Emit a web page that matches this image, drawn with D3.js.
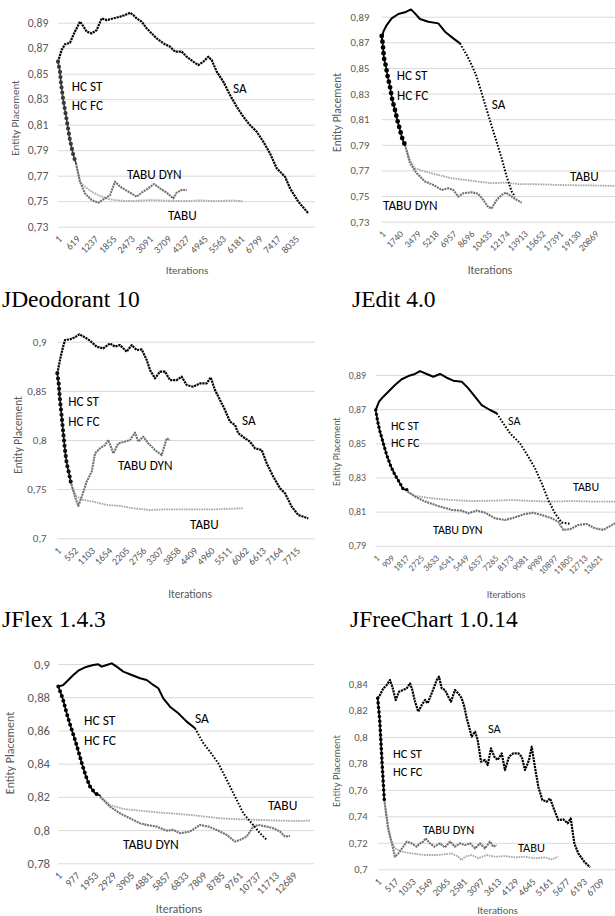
<!DOCTYPE html>
<html><head><meta charset="utf-8">
<script src="https://cdn.jsdelivr.net/npm/d3@7"></script>
<style>body{margin:0;background:#fff}svg{display:block}</style>
</head><body>
<svg id="c" width="615" height="916"></svg>
<script>
// ---------- DATA (iteration, entity placement) ----------
const p1_xTicks=[1,619,1237,1855,2473,3091,3709,4327,4945,5563,6181,6799,7417,8035];
const p1_yTicks=[0.73,0.75,0.77,0.79,0.81,0.83,0.85,0.87,0.89];
const p1_SA=[[1,.8594],[125,.8686],[237,.873],[406,.8743],[575,.883],[745,.8908],[835,.888],[971,.883],[1140,.8816],[1310,.8842],[1479,.8934],[1648,.892],[1872,.8934],[2099,.8947],[2268,.896],[2437,.8978],[2549,.896],[2663,.8934],[2833,.8908],[3002,.8856],[3172,.8816],[3341,.8777],[3566,.8738],[3792,.8712],[3961,.8673],[4187,.8673],[4357,.8633],[4581,.8594],[4750,.8568],[4919,.8594],[5089,.8633],[5203,.8607],[5373,.8516],[5597,.8437],[5823,.8333],[6050,.8241],[6273,.8163],[6500,.8097],[6727,.8045],[6950,.7967],[7177,.7875],[7404,.7758],[7685,.7692],[7855,.7601],[8136,.7496],[8474,.7405]];
const p1_HCST=[[1,.8594],[68,.8516],[102,.8424],[180,.8293],[294,.8137],[406,.798],[519,.7862],[609,.7797]];
const p1_HCFC=[[1,.8594],[68,.8516],[102,.8424],[180,.8293],[294,.8137],[406,.798],[519,.7862],[609,.7797]];
const p1_TABU=[[609,.7797],[745,.7653],[914,.7614],[1140,.7575],[1423,.7541],[1761,.7514],[2099,.7504],[2549,.7501],[3115,.7509],[3679,.7504],[4244,.7501],[4807,.7506],[5373,.7501],[5936,.7506],[6273,.7499]];
const p1_DYN=[[609,.7797],[745,.7653],[914,.7561],[1140,.7509],[1366,.7488],[1592,.7522],[1761,.7548],[1930,.7653],[2099,.7614],[2381,.7575],[2663,.7535],[2833,.7567],[3058,.7601],[3251,.7635],[3454,.7601],[3679,.7567],[3904,.7522],[4019,.7567],[4187,.7588],[4357,.7588]];
const p1_labels=[["HC ST",465,.8388],["HC FC",465,.8239],["SA",5925,.8372],["TABU DYN",2337,.7698],["TABU",3725,.7376]];

const p2_xTicks=[1,1740,3479,5218,6957,8696,10435,12174,13913,15652,17391,19130,20869];
const p2_yTicks=[0.73,0.75,0.77,0.79,0.81,0.83,0.85,0.87,0.89];
const p2_SA=[[1,.872],[160,.8783],[489,.8835],[978,.8887],[1627,.8921],[2279,.8934],[2866,.8957],[3257,.8926],[3746,.8882],[4558,.8861],[5537,.8848],[6192,.8783],[7004,.8731],[7659,.8692],[8315,.8601],[8804,.8523],[9293,.8432],[9782,.8302],[10427,.8133],[11083,.7964],[11738,.7795],[12227,.7652],[12717,.7535],[13040,.7496]];
const p2_HCST=[[1,.875],[98,.8692],[225,.8575],[421,.851],[587,.8432],[812,.8354],[1037,.825],[1301,.8172],[1526,.8094],[1790,.8016],[2054,.7938],[2279,.7899]];
const p2_HCFC=[[1,.875],[98,.8692],[225,.8575],[421,.851],[587,.8432],[812,.8354],[1037,.825],[1301,.8172],[1526,.8094],[1790,.8016],[2054,.7938],[2279,.7899]];
const p2_TABU=[[2279,.7899],[2768,.7782],[3257,.7717],[4236,.7691],[5537,.7665],[6847,.7639],[8148,.7626],[9450,.7613],[10760,.76],[12061,.7605],[13362,.7594],[15319,.7592],[17275,.7587],[19231,.7584],[21187,.7582],[22821,.7579]];
const p2_DYN=[[2279,.7899],[2768,.7756],[3424,.7678],[4236,.7613],[5047,.7587],[5869,.7548],[6515,.7561],[7004,.7548],[7493,.7496],[7982,.7522],[8804,.753],[9450,.7517],[9938,.747],[10427,.7413],[10760,.7405],[11249,.747],[11738,.7509],[12159,.7527],[12717,.7496],[13205,.747],[13694,.7449]];
const p2_labels=[["HC ST",1468,.8432],["HC FC",1498,.8276],["SA",10761,.8203],["TABU",18420,.7644],["TABU DYN",128,.7415]];

const p3_xTicks=[1,552,1103,1654,2205,2756,3307,3858,4409,4960,5511,6062,6613,7164,7715];
const p3_yTicks=[0.7,0.75,0.8,0.85,0.9];
const p3_SA=[[1,.8678],[87,.8814],[174,.8932],[249,.9017],[410,.9024],[571,.9044],[711,.9075],[895,.9044],[1056,.901],[1273,.8949],[1486,.8932],[1702,.8983],[1863,.8949],[2025,.8966],[2241,.8898],[2402,.8966],[2564,.8915],[2725,.8922],[2887,.8814],[2993,.8712],[3155,.8627],[3316,.8695],[3477,.8695],[3639,.861],[3855,.861],[4016,.8644],[4178,.8559],[4391,.8542],[4607,.8576],[4823,.8576],[4953,.8637],[5091,.8508],[5253,.8407],[5414,.8305],[5576,.8186],[5737,.8153],[5843,.8068],[6060,.8017],[6221,.7983],[6383,.7915],[6599,.7898],[6760,.7763],[6973,.7627],[7190,.7508],[7351,.7458],[7567,.7322],[7780,.7237],[8103,.7203]];
const p3_HCST=[[1,.8678],[46,.8576],[87,.8407],[143,.8237],[195,.8068],[249,.7898],[304,.7763],[379,.7661],[433,.7576]];
const p3_HCFC=[[1,.8678],[46,.8576],[87,.8407],[143,.8237],[195,.8068],[249,.7898],[304,.7763],[379,.7661],[433,.7576]];
const p3_TABU=[[433,.7576],[466,.7525],[627,.7424],[840,.739],[1163,.7373],[1596,.7339],[2025,.7329],[2454,.7305],[2993,.7288],[3533,.7295],[4068,.7295],[4607,.7295],[5145,.7295],[5682,.7302],[6005,.7305]];
const p3_DYN=[[433,.7576],[571,.7424],[679,.7329],[789,.7424],[950,.7576],[1111,.7678],[1218,.7864],[1379,.7915],[1541,.7949],[1647,.8],[1809,.7864],[1970,.7966],[2186,.7983],[2348,.8],[2509,.8075],[2615,.7983],[2777,.8034],[2939,.7966],[3155,.7898],[3371,.7847],[3533,.8017],[3639,.8]];
const p3_labels=[["HC ST",356,.8376],["HC FC",356,.8178],["SA",5963,.8186],["TABU DYN",1960,.7725],["TABU",4285,.7125]];

const p4_xTicks=[1,909,1817,2725,3633,4541,5449,6357,7265,8173,9081,9989,10897,11805,12713,13621];
const p4_yTicks=[0.79,0.81,0.83,0.85,0.87,0.89];
const p4_SA=[[1,.8695],[203,.8744],[465,.8773],[771,.8802],[1180,.8841],[1590,.8875],[1993,.8894],[2402,.8906],[2708,.8923],[3117,.8906],[3520,.889],[3930,.8906],[4339,.8884],[4743,.8867],[5256,.8861],[5659,.8822],[6068,.8773],[6478,.8724],[6985,.8695],[7394,.8676],[7798,.8617],[8207,.8559],[8818,.85],[9325,.8422],[9735,.8354],[10144,.8266],[10547,.8168],[10956,.809],[11366,.8036],[11873,.8028]];
const p4_HCST=[[1,.8695],[123,.8627],[264,.8568],[465,.85],[673,.8432],[936,.8363],[1180,.8315],[1486,.8266],[1688,.8231],[1956,.8227]];
const p4_HCFC=[[1,.8695],[123,.8627],[264,.8568],[465,.85],[673,.8432],[936,.8363],[1180,.8315],[1486,.8266],[1688,.8231],[1956,.8227]];
const p4_TABU=[[1956,.8217],[2402,.8192],[3423,.8178],[4645,.8168],[5867,.8162],[7089,.8164],[8311,.8168],[9533,.8162],[10755,.8159],[11977,.8162],[13199,.8159],[14623,.8159]];
const p4_DYN=[[1956,.8217],[2402,.8188],[3013,.8159],[3826,.8133],[4645,.811],[5256,.8106],[5659,.809],[6172,.8106],[6679,.8094],[7290,.8061],[7901,.8051],[8512,.8067],[9124,.8086],[9631,.8094],[10144,.808],[10755,.8061],[11158,.8041],[11464,.7993],[11873,.7997],[12381,.8022],[12894,.8028],[13401,.8002],[13908,.7993],[14623,.8032]];
const p4_labels=[["HC ST",936,.8597],["HC FC",936,.8496],["SA",8085,.8625],["TABU",12058,.8238],["TABU DYN",3502,.7986]];

const p5_xTicks=[1,977,1953,2929,3905,4881,5857,6833,7809,8785,9761,10737,11713,12689];
const p5_yTicks=[0.78,0.8,0.82,0.84,0.86,0.88,0.9];
const p5_SA=[[1,.8864],[271,.8874],[541,.8904],[811,.8934],[1081,.896],[1443,.898],[1891,.8994],[2160,.8998],[2344,.8984],[2614,.8994],[2884,.9004],[3154,.8984],[3510,.8954],[3963,.8934],[4412,.8914],[4773,.8904],[5130,.8874],[5400,.8854],[5670,.8793],[6031,.8743],[6479,.8703],[6933,.8653],[7381,.8613],[7829,.8523],[8191,.8472],[8639,.8402],[9093,.8302],[9541,.8202],[9989,.8101],[10442,.8041],[10890,.7981],[11252,.7941]];
const p5_HCST=[[1,.8864],[238,.8793],[454,.8703],[670,.8623],[903,.8543],[1118,.8462],[1297,.8392],[1497,.8322],[1712,.8262],[1982,.8222],[2252,.8208]];
const p5_HCFC=[[1,.8864],[238,.8793],[454,.8703],[670,.8623],[903,.8543],[1118,.8462],[1297,.8392],[1497,.8322],[1712,.8262],[1982,.8222],[2252,.8208]];
const p5_TABU=[[2252,.8202],[2792,.8151],[3510,.8127],[4412,.8117],[5491,.8105],[6571,.8097],[7651,.8085],[8731,.8071],[9810,.8065],[10890,.8061],[11970,.8057],[13050,.8055],[13590,.8057]];
const p5_DYN=[[2252,.8202],[2792,.8141],[3332,.8101],[3872,.8071],[4412,.8041],[4773,.8031],[5313,.8021],[5853,.7997],[6209,.8001],[6571,.7981],[7111,.7991],[7651,.8031],[8099,.8021],[8553,.8001],[9093,.7971],[9541,.7931],[9810,.7941],[10172,.7961],[10528,.8021],[10800,.8031],[11252,.8021],[11608,.8011],[11970,.7991],[12240,.7961],[12510,.7965]];
const p5_labels=[["HC ST",1388,.8651],["HC FC",1388,.853],["SA",7381,.8663],["TABU",11322,.8139],["TABU DYN",3494,.7904]];

const p6_xTicks=[1,517,1033,1549,2065,2581,3097,3613,4129,4645,5161,5677,6193,6709];
const p6_yTicks=[0.7,0.72,0.74,0.76,0.78,0.8,0.82,0.84];
const p6_SA=[[1,.8292],[70,.8317],[170,.8367],[272,.8392],[372,.843],[441,.838],[543,.8279],[643,.8342],[772,.8355],[874,.8367],[974,.8405],[1043,.8355],[1124,.8267],[1224,.8191],[1326,.8241],[1426,.8279],[1507,.8254],[1606,.8317],[1706,.838],[1778,.843],[1847,.8455],[1929,.8367],[2028,.8355],[2127,.8304],[2209,.8267],[2329,.8355],[2429,.8329],[2531,.8292],[2609,.8229],[2682,.8141],[2751,.8078],[2832,.8002],[2932,.804],[3013,.7977],[3112,.7813],[3233,.7826],[3314,.7788],[3414,.7914],[3513,.7851],[3615,.7826],[3736,.7876],[3835,.775],[3956,.7851],[4085,.7876],[4236,.7876],[4338,.7851],[4438,.775],[4558,.7826],[4640,.7926],[4718,.7801],[4838,.7624],[4959,.7524],[5091,.7511],[5191,.7536],[5320,.7448],[5441,.7372],[5591,.7377],[5724,.7347],[5814,.7385],[5923,.7196],[6043,.712],[6224,.7057],[6396,.7015]];
const p6_HCST=[[1,.8292],[61,.8128],[100,.7952],[140,.7775],[170,.765],[200,.7524]];
const p6_HCFC=[[1,.8292],[61,.8128],[100,.7952],[140,.7775],[170,.765],[200,.7524]];
const p6_TABU=[[200,.7524],[302,.7347],[401,.7221],[522,.7158],[724,.7133],[1025,.712],[1426,.7108],[1826,.7108],[2227,.712],[2429,.7095],[2531,.707],[2631,.7095],[2832,.7108],[3031,.7083],[3284,.7108],[3534,.7095],[3835,.71],[4136,.709],[4438,.7095],[4739,.7083],[5040,.709],[5242,.7075],[5441,.7095]];
const p6_DYN=[[200,.7524],[320,.7297],[441,.7183],[522,.7095],[622,.712],[772,.7171],[874,.7209],[1025,.7196],[1176,.7171],[1275,.7196],[1374,.7209],[1447,.7234],[1576,.7196],[1706,.7171],[1877,.7196],[2028,.7166],[2178,.7209],[2329,.7171],[2480,.7196],[2631,.7183],[2782,.7196],[2932,.7158],[3082,.7196],[3233,.7158],[3383,.7209],[3483,.7171],[3585,.7183]];
const p6_labels=[["HC ST",462,.7864],["HC FC",462,.7728],["SA",3323,.8052],["TABU DYN",1365,.7289],["TABU",4227,.7153]];

const captions=["JDeodorant 10","JEdit 4.0","JFlex 1.4.3","JFreeChart 1.0.14"];
const yTitle="Entity Placement", xTitle="Iterations";

// ---------- LAYOUT / STYLE ----------
const F="Carlito, Calibri, Lato, sans-serif";
const layout=[
 {d:[p1_xTicks,p1_yTicks,p1_SA,p1_HCST,p1_HCFC,p1_TABU,p1_DYN,p1_labels],left:58,right:315,N:8700,yDom:[0.73,0.89],yRange:[226.7,22.7],yPad:9.7,yFont:11.7,xFont:10,ann:13.2,tFont:11,yT:[16.7,118],xT:[187,274],hcW:4.2,hcC:"#3a3a3a",split:0},
 {d:[p2_xTicks,p2_yTicks,p2_SA,p2_HCST,p2_HCFC,p2_TABU,p2_DYN,p2_labels],left:381.7,right:615,N:22823,yDom:[0.73,0.89],yRange:[221.7,16.7],yPad:12.4,yFont:10.7,xFont:9.5,ann:13.2,tFont:11.5,yT:[338.3,112.5],xT:[490,274],hcW:4.8,hcC:"#000",split:7659},
 {d:[p3_xTicks,p3_yTicks,p3_SA,p3_HCST,p3_HCFC,p3_TABU,p3_DYN,p3_labels],left:57.3,right:315,N:8319,yDom:[0.7,0.9],yRange:[538.3,341.7],yPad:10.6,yFont:11,xFont:10,ann:13.2,tFont:11.3,yT:[19,435],xT:[190,598],hcW:4.2,hcC:"#111",split:0},
 {d:[p4_xTicks,p4_yTicks,p4_SA,p4_HCST,p4_HCFC,p4_TABU,p4_DYN,p4_labels],left:375.7,right:615,N:14623,yDom:[0.79,0.89],yRange:[545.8,375],yPad:9.7,yFont:9.8,xFont:9,ann:12,tFont:10,yT:[337.3,451.7],xT:[506,598],hcW:3.4,hcC:"#000",split:7394},
 {d:[p5_xTicks,p5_yTicks,p5_SA,p5_HCST,p5_HCFC,p5_TABU,p5_DYN,p5_labels],left:58.3,right:314,N:13805,yDom:[0.78,0.9],yRange:[863.3,664],yPad:8.3,yFont:12.7,xFont:10.5,ann:13.5,tFont:12,yT:[11,753],xT:[179,913],hcW:4,hcC:"#000",split:7381},
 {d:[p6_xTicks,p6_yTicks,p6_SA,p6_HCST,p6_HCFC,p6_TABU,p6_DYN,p6_labels],left:377.7,right:615,N:7148,yDom:[0.7,0.84],yRange:[869.3,684],yPad:10,yFont:10.7,xFont:10,ann:12.4,tFont:10.5,yT:[337.7,771],xT:[497.5,914],hcW:3.6,hcC:"#000",split:0}
];
const capPos=[[2,307],[352,307],[2,627],[350,627]];

// ---------- DRAW ----------
const svg=d3.select("#c");
svg.append("rect").attr("width",615).attr("height",916).attr("fill","#fff");
const fmt=v=>String(+v.toFixed(2)).replace(".",",");

layout.forEach(L=>{
  const [xTicks,yTicks,SA,HCST,HCFC,TABU,DYN,labels]=L.d;
  const g=svg.append("g");
  const x=d3.scaleLinear().domain([1,L.N]).range([L.left,L.right]);
  const y=d3.scaleLinear().domain(L.yDom).range(L.yRange);

  const gy=g.append("g").attr("transform",`translate(${L.left},0)`)
    .call(d3.axisLeft(y).tickValues(yTicks).tickSize(-(L.right-L.left)).tickPadding(L.yPad).tickFormat(fmt));
  gy.select(".domain").remove();
  gy.selectAll("line").attr("stroke","#d9d9d9").attr("stroke-width",1);
  gy.selectAll("text").attr("fill","#595959").style("font-family",F).style("font-size",L.yFont+"px");

  const gx=g.append("g").attr("transform",`translate(0,${L.yRange[0]})`)
    .call(d3.axisBottom(x).tickValues(xTicks).tickSize(0).tickFormat(d3.format("d")));
  gx.select(".domain").remove();
  gx.selectAll("text").attr("y",0).attr("dy",0).attr("x",0)
    .attr("text-anchor","end").attr("transform","translate(4,13) rotate(-45)")
    .attr("fill","#595959").style("font-family",F).style("font-size",L.xFont+"px");

  g.append("text").attr("transform",`translate(${L.yT[0]},${L.yT[1]}) rotate(-90)`)
    .attr("text-anchor","middle").attr("dominant-baseline","middle")
    .attr("fill","#595959").style("font-family",F).style("font-size",L.tFont+"px").text(yTitle);
  g.append("text").attr("x",L.xT[0]).attr("y",L.xT[1]).attr("text-anchor","middle")
    .attr("fill","#595959").style("font-family",F).style("font-size",L.tFont+"px").text(xTitle);

  const line=d3.line().x(d=>x(d[0])).y(d=>y(d[1]));
  const path=(data,stroke,w,dash,cap)=>g.append("path").attr("d",line(data)).attr("fill","none")
      .attr("stroke",stroke).attr("stroke-width",w).attr("stroke-dasharray",dash)
      .attr("stroke-linecap",cap||"butt").attr("stroke-linejoin","round");

  path(TABU,"#a6a6a6",1.8,"1.6,0.9");
  path(DYN,"#707070",2.1,"2,0.8");
  if(L.split){
    path(SA.filter(d=>d[0]<=L.split),"#000",2,null);
    path(SA.filter(d=>d[0]>=L.split),"#000",2,"1.6,1.6");
  } else {
    path(SA,"#000",2.2,"2.2,0.8");
  }
  path(HCFC,L.hcC,1.6,null,"round");
  path(HCST,L.hcC,L.hcW,`0,${L.hcW+1}`,"round");

  g.selectAll(".ann").data(labels).enter().append("text")
    .attr("x",d=>x(d[1])).attr("y",d=>y(d[2])).attr("dominant-baseline","middle")
    .attr("fill","#000").style("font-family",F).style("font-size",L.ann+"px").text(d=>d[0]);
});

svg.selectAll(".cap").data(captions).enter().append("text")
  .attr("x",(d,i)=>capPos[i][0]).attr("y",(d,i)=>capPos[i][1])
  .style("font-family","'Liberation Serif','Times New Roman',serif").style("font-size","23.5px")
  .attr("fill","#000").text(d=>d);
</script>
</body></html>
